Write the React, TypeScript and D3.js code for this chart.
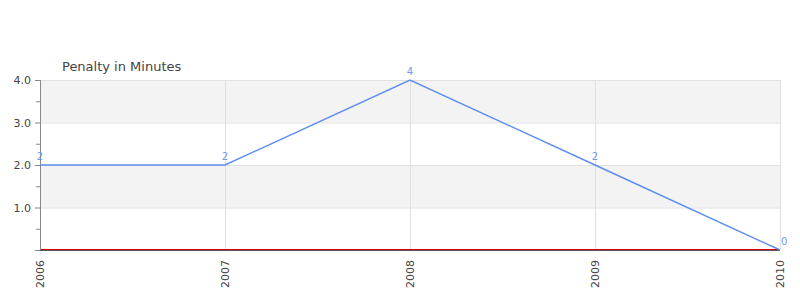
import React from "react";
import * as d3 from "d3";

const years = ["2006", "2007", "2008", "2009", "2010"];
const penalty = [2, 2, 4, 2, 0];
const yTicks = [1, 2, 3, 4];
const yMinorTicks = [0, 0.5, 1, 1.5, 2, 2.5, 3, 3.5, 4];
const bands = [[3, 4], [1, 2]];
const title = "Penalty in Minutes";

export default function App() {
  const W = 800, H = 300;
  const left = 40, right = 780, top = 80, bottom = 250;
  const x = d3.scalePoint<string>().domain(years).range([left, right]);
  const y = d3.scaleLinear().domain([0, 4]).range([bottom, top]);
  const line = d3.line<number>().x((_, i) => x(years[i])!).y((d) => y(d));
  const font = "'DejaVu Sans', Verdana, sans-serif";
  return (
    <svg width={W} height={H} style={{ position: "absolute", left: 0, top: 0, fontFamily: font }}>
      <rect x={0} y={0} width={W} height={H} fill="#fff" />
      {bands.map(([a, b], i) => (
        <rect key={i} x={left} y={y(b)} width={right - left} height={y(a) - y(b)} fill="#f3f3f3" />
      ))}
      {yTicks.map((t) => (
        <line key={t} x1={left} x2={right} y1={y(t) + 0.5} y2={y(t) + 0.5} stroke="#e0e0e0" />
      ))}
      {years.map((yr) => (
        <line key={yr} x1={x(yr)! + 0.5} x2={x(yr)! + 0.5} y1={top} y2={bottom} stroke="#e0e0e0" />
      ))}
      <line x1={left} x2={right} y1={bottom - 0.5} y2={bottom - 0.5} stroke="#dd0000" strokeWidth={1} />
      <line x1={left - 5} x2={right} y1={bottom + 0.5} y2={bottom + 0.5} stroke="#555" />
      <line x1={left + 0.5} x2={left + 0.5} y1={top} y2={bottom} stroke="#888" />
      {yMinorTicks.map((t) => (
        <line key={t} x1={t % 1 === 0 ? left - 5 : left - 4} x2={left} y1={y(t) + 0.5} y2={y(t) + 0.5} stroke="#888" />
      ))}
      {yTicks.map((t) => (
        <text key={t} x={left - 9} y={y(t) + 4} textAnchor="end" fontSize={11} fill="#444">
          {t.toFixed(1)}
        </text>
      ))}
      {years.map((yr) => (
        <text key={yr} transform={`translate(${x(yr)! + 4},${bottom + 10}) rotate(-90)`} textAnchor="end" fontSize={11} fill="#444">
          {yr}
        </text>
      ))}
      <path d={line(penalty) ?? ""} fill="none" stroke="#5b8def" strokeWidth={1.4} />
      {penalty.map((v, i) => (
        <text key={i} x={x(years[i])! + (i === years.length - 1 ? 1 : 0)} y={y(v) - 5} textAnchor={i === years.length - 1 ? "start" : "middle"} fontSize={10} fill="#6f9be8">
          {v}
        </text>
      ))}
      <text x={62} y={71} fontSize={13} fill="#444">{title}</text>
    </svg>
  );
}
